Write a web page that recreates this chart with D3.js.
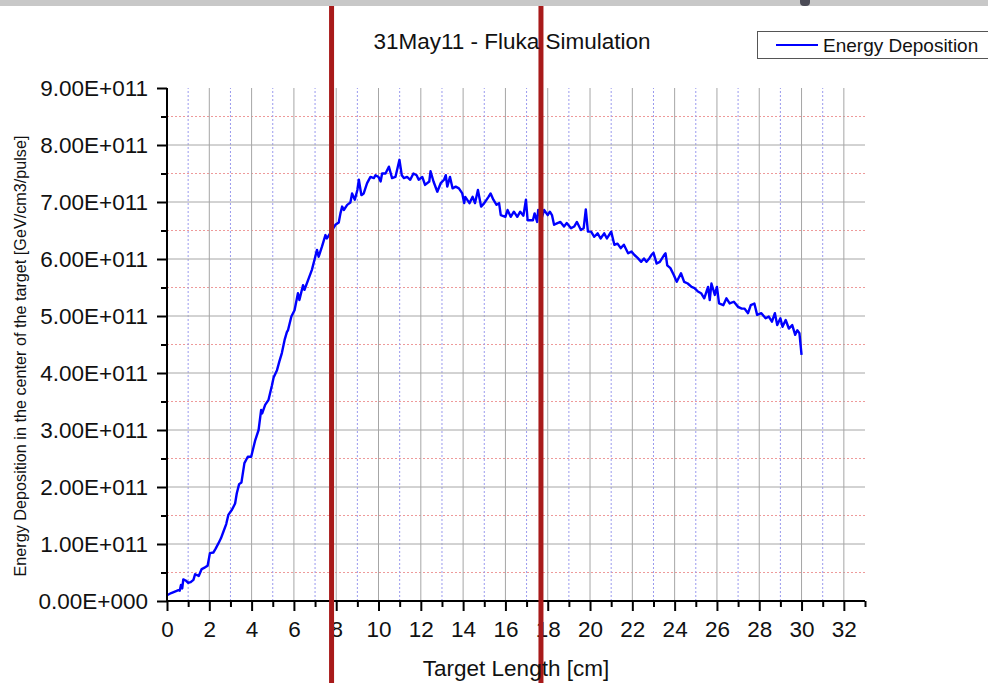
<!DOCTYPE html>
<html>
<head>
<meta charset="utf-8">
<script src="https://cdn.jsdelivr.net/npm/d3@7"></script>
<style>
  body { margin: 0; background: #fff; }
  svg { display: block; font-family: "Liberation Sans", Arial, sans-serif; }
</style>
</head>
<body>
<svg id="chart" width="988" height="683"></svg>
<script>
// target position along the target, cm
const positionCm = [
  0, 0.2, 0.4, 0.54, 0.6, 0.66, 0.72, 0.77, 0.88, 1.0, 1.12, 1.25, 1.33, 1.5, 1.64, 1.8, 1.92,
  2.03, 2.19, 2.3, 2.43, 2.55, 2.67, 2.8, 2.9, 3.07, 3.22, 3.3, 3.41, 3.52, 3.66, 3.82, 3.98,
  4.17, 4.33, 4.45, 4.5, 4.64, 4.8, 4.96, 5.04, 5.2, 5.31, 5.43, 5.56, 5.67, 5.72, 5.88, 6.03,
  6.19, 6.26, 6.43, 6.5, 6.7, 6.85, 7.01, 7.09, 7.17, 7.33, 7.49, 7.56, 7.66, 7.8, 7.96, 8.12,
  8.2, 8.28, 8.36, 8.52, 8.67, 8.75, 8.88, 9.0, 9.07, 9.19, 9.3, 9.46, 9.62, 9.78, 9.86, 10.0,
  10.1, 10.17, 10.33, 10.49, 10.64, 10.8, 10.99, 11.1, 11.2, 11.35, 11.5, 11.65, 11.8, 11.9,
  12.07, 12.2, 12.4, 12.46, 12.6, 12.78, 12.94, 13.1, 13.18, 13.25, 13.38, 13.5, 13.65, 13.8,
  13.96, 14.05, 14.1, 14.3, 14.45, 14.56, 14.7, 14.85, 15.0, 15.2, 15.3, 15.43, 15.58, 15.7,
  15.78, 16.0, 16.1, 16.25, 16.4, 16.56, 16.7, 16.85, 16.97, 17.05, 17.3, 17.38, 17.5, 17.55,
  17.7, 17.83, 18.0, 18.1, 18.2, 18.3, 18.46, 18.6, 18.77, 18.9, 19.1, 19.25, 19.38, 19.57,
  19.7, 19.8, 19.9, 20.05, 20.2, 20.36, 20.5, 20.67, 20.8, 21.0, 21.15, 21.3, 21.45, 21.6,
  21.8, 21.96, 22.1, 22.25, 22.42, 22.55, 22.67, 22.8, 22.9, 23.0, 23.15, 23.3, 23.5, 23.57,
  23.65, 23.8, 23.96, 24.1, 24.3, 24.45, 24.62, 24.8, 24.94, 25.1, 25.25, 25.4, 25.58, 25.66,
  25.74, 25.9, 26.0, 26.1, 26.3, 26.45, 26.6, 26.8, 27.0, 27.17, 27.3, 27.47, 27.6, 27.77,
  27.9, 28.1, 28.3, 28.45, 28.6, 28.74, 28.85, 29.0, 29.1, 29.25, 29.4, 29.56, 29.7, 29.8,
  29.9, 30.0
]
// energy deposition, in units of 1E+011 GeV/cm3/pulse
const deposition = [
  0.10, 0.14, 0.17, 0.19, 0.18, 0.28, 0.22, 0.38, 0.36, 0.32, 0.33, 0.37, 0.47, 0.44, 0.56, 0.59, 0.62,
  0.84, 0.85, 0.92, 1.01, 1.10, 1.22, 1.35, 1.51, 1.60, 1.71, 1.89, 2.05, 2.08, 2.42, 2.53, 2.53,
  2.82, 3.00, 3.35, 3.29, 3.44, 3.53, 3.78, 3.92, 4.05, 4.20, 4.35, 4.58, 4.72, 4.75, 4.99, 5.10,
  5.40, 5.28, 5.54, 5.46, 5.66, 5.81, 6.04, 6.16, 6.04, 6.22, 6.42, 6.36, 6.42, 6.50, 6.60, 6.64,
  6.80, 6.92, 6.86, 6.95, 6.99, 7.15, 7.04, 7.21, 7.39, 7.12, 7.15, 7.33, 7.44, 7.42, 7.47, 7.44,
  7.36, 7.50, 7.50, 7.62, 7.42, 7.44, 7.74, 7.47, 7.42, 7.44, 7.39, 7.50, 7.47, 7.39,
  7.44, 7.30, 7.36, 7.54, 7.36, 7.18, 7.33, 7.39, 7.47, 7.27, 7.44, 7.24, 7.27, 7.24,
  7.15, 6.98, 7.09, 6.98, 7.09, 6.98, 7.21, 6.92, 6.98, 7.09, 7.15, 7.04, 6.95, 6.98,
  6.77, 6.74, 6.86, 6.74, 6.83, 6.74, 6.83, 6.76, 7.04, 6.68, 6.68, 6.80, 6.65, 6.86,
  6.70, 6.86, 6.77, 6.83, 6.77, 6.60, 6.63, 6.65, 6.57, 6.63, 6.54, 6.57, 6.65, 6.51,
  6.54, 6.87, 6.48, 6.48, 6.39, 6.45, 6.36, 6.45, 6.36, 6.48, 6.25, 6.27, 6.19, 6.25,
  6.10, 6.13, 6.07, 6.02, 5.95, 6.01, 5.95, 6.01, 6.07, 6.11, 5.92, 5.95, 6.07, 6.10,
  5.89, 5.84, 5.72, 5.60, 5.75, 5.60, 5.57, 5.51, 5.49, 5.43, 5.40, 5.31, 5.51, 5.28,
  5.57, 5.37, 5.51, 5.22, 5.19, 5.31, 5.22, 5.25, 5.16, 5.13, 5.13, 5.05, 5.19, 5.22,
  5.02, 5.05, 4.96, 4.99, 4.90, 5.05, 4.84, 4.96, 4.81, 4.93, 4.78, 4.84, 4.67, 4.75,
  4.70, 4.32
]
const markerCm = [7.78, 17.68]
const xMajorTicks = d3.range(0, 33, 2)
const xMinorTicks = d3.range(1, 34, 2)
const yMajorTicks = d3.range(0, 10, 1)
const yMinorTicks = d3.range(0.5, 9, 1)
const yTickLabels = ['0.00E+000', '1.00E+011', '2.00E+011', '3.00E+011', '4.00E+011',
  '5.00E+011', '6.00E+011', '7.00E+011', '8.00E+011', '9.00E+011']

const W = 988, H = 683
const svg = d3.select('#chart')

const x = d3.scaleLinear().domain([0, 33]).range([167, 865])
const y = d3.scaleLinear().domain([0, 9]).range([601, 88])

// top strip of the screenshot
svg.append('rect').attr('x', 0).attr('y', 0).attr('width', W).attr('height', 6).attr('fill', '#c8c8c8')
svg.append('rect').attr('x', 800).attr('y', -4).attr('width', 10).attr('height', 10).attr('rx', 4).attr('fill', '#4a4a55')

// grid
const grid = svg.append('g')
grid.selectAll('.hmin').data(yMinorTicks).join('line')
  .attr('x1', x(0)).attr('x2', x(33)).attr('y1', d => y(d)).attr('y2', d => y(d))
  .attr('stroke', '#ee9a9a').attr('stroke-dasharray', '2,2')
grid.selectAll('.vmin').data(xMinorTicks.filter(d => d < 33)).join('line')
  .attr('x1', d => x(d)).attr('x2', d => x(d)).attr('y1', y(0)).attr('y2', y(9))
  .attr('stroke', '#9a9aee').attr('stroke-dasharray', '2,2')
grid.selectAll('.hmaj').data(yMajorTicks.filter(d => d > 0 && d < 9)).join('line')
  .attr('x1', x(0)).attr('x2', x(33)).attr('y1', d => y(d)).attr('y2', d => y(d))
  .attr('stroke', '#a6a6a6')
grid.selectAll('.vmaj').data(xMajorTicks.filter(d => d > 0)).join('line')
  .attr('x1', d => x(d)).attr('x2', d => x(d)).attr('y1', y(0)).attr('y2', y(9))
  .attr('stroke', '#a6a6a6')

// curve
const line = d3.line().x((d, i) => x(positionCm[i])).y(d => y(d))
svg.append('path').datum(deposition)
  .attr('d', line).attr('fill', 'none').attr('stroke', '#0000ff')
  .attr('stroke-width', 2.4).attr('stroke-linejoin', 'round')

// axes
const xAxisMinor = svg.append('g').attr('transform', `translate(0,${y(0)})`)
  .call(d3.axisBottom(x).tickValues(xMinorTicks).tickSize(6).tickFormat(''))
const xAxis = svg.append('g').attr('transform', `translate(0,${y(0)})`)
  .call(d3.axisBottom(x).tickValues(xMajorTicks).tickSize(10).tickPadding(10))
const yAxisMinor = svg.append('g').attr('transform', `translate(${x(0)},0)`)
  .call(d3.axisLeft(y).tickValues(yMinorTicks).tickSize(6).tickFormat(''))
const yAxis = svg.append('g').attr('transform', `translate(${x(0)},0)`)
  .call(d3.axisLeft(y).tickValues(yMajorTicks).tickSize(10).tickPadding(9).tickFormat((d, i) => yTickLabels[i]))

for (const g of [xAxisMinor, xAxis, yAxisMinor, yAxis]) {
  g.select('.domain').attr('stroke', '#000').attr('stroke-width', 2)
  g.selectAll('.tick line').attr('stroke', '#000').attr('stroke-width', 2)
  g.selectAll('text').attr('fill', '#111').style('font-size', '22.5px')
}
xAxisMinor.select('.domain').remove()
yAxisMinor.select('.domain').remove()
xAxis.select('.domain').attr('d', `M${x(0)},0H${x(33)}`)
yAxis.select('.domain').attr('d', `M0,${y(0)}V${y(9)}`)

// marker lines across the whole shot
svg.append('g').selectAll('line').data(markerCm).join('line')
  .attr('x1', d => x(d)).attr('x2', d => x(d)).attr('y1', 6).attr('y2', H)
  .attr('stroke', '#a81a1a').attr('stroke-width', 5)

// titles
svg.append('text').attr('x', 512).attr('y', 49).attr('text-anchor', 'middle')
  .style('font-size', '22.5px').attr('fill', '#111').text('31May11 - Fluka Simulation')
svg.append('text').attr('x', 516).attr('y', 676).attr('text-anchor', 'middle')
  .style('font-size', '22.5px').attr('fill', '#111').text('Target Length [cm]')
svg.append('text').attr('transform', 'translate(26,356) rotate(-90)').attr('text-anchor', 'middle')
  .style('font-size', '16.2px').attr('fill', '#111')
  .text('Energy Deposition in the center of the target [GeV/cm3/pulse]')

// legend
const legend = svg.append('g')
legend.append('rect').attr('x', 757.5).attr('y', 31.5).attr('width', 240).attr('height', 27)
  .attr('fill', '#fff').attr('stroke', '#555')
legend.append('line').attr('x1', 776).attr('x2', 818).attr('y1', 45).attr('y2', 45)
  .attr('stroke', '#0000ff').attr('stroke-width', 2)
legend.append('text').attr('x', 823).attr('y', 52).style('font-size', '19px').attr('fill', '#111')
  .text('Energy Deposition')
</script>
</body>
</html>
